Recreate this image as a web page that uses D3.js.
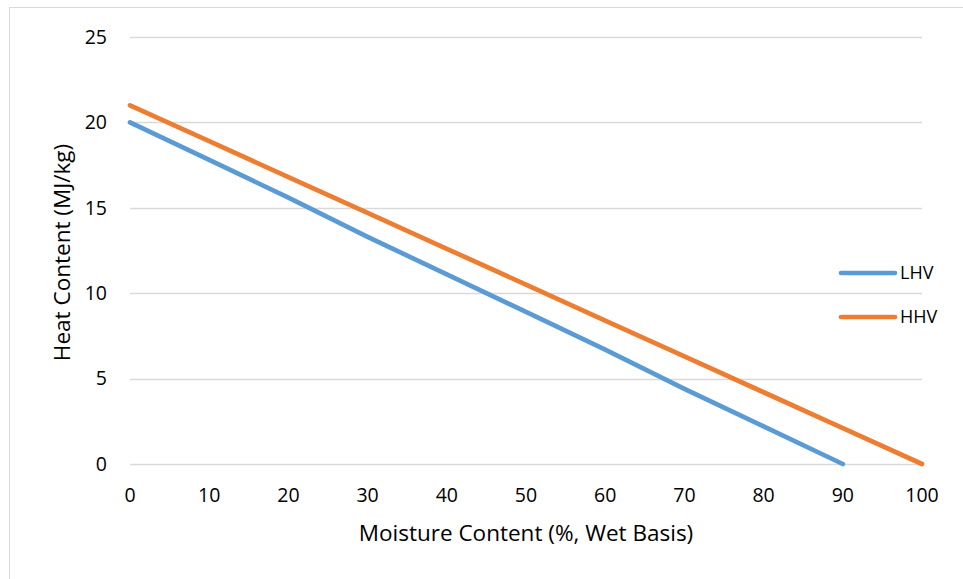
<!DOCTYPE html>
<html>
<head>
<meta charset="utf-8">
<script src="https://cdn.jsdelivr.net/npm/d3@7"></script>
<style>
body { margin: 0; background: #fff; }
text { font-family: "Open Sans", sans-serif; fill: #000; }
</style>
</head>
<body>
<svg id="svg"></svg>
<script>
var width = 963, height = 579;

// data
var moisture = [0, 10, 20, 30, 40, 50, 60, 70, 80, 90, 100];
var lhv = [20, 17.8, 15.6, 13.3, 11.1, 8.9, 6.7, 4.4, 2.2, 0];
var hhv = [21, 18.9, 16.8, 14.7, 12.6, 10.5, 8.4, 6.3, 4.2, 2.1, 0];
var seriesNames = ["LHV", "HHV"];
var xTicks = [0, 10, 20, 30, 40, 50, 60, 70, 80, 90, 100];
var yTicks = [0, 5, 10, 15, 20, 25];

var color = d3.scaleOrdinal()
	.domain(seriesNames)
	.range(["#5B9BD5", "#ED7D31"]);

var svg = d3.select("#svg")
	.attr("width", width)
	.attr("height", height);

// chart border
svg.append("rect")
	.attr("x", 9.5).attr("y", 7.5)
	.attr("width", width + 10).attr("height", height + 10)
	.attr("fill", "none")
	.attr("stroke", "#D9D9D9");

var x = d3.scaleLinear().domain([0, 100]).range([130, 922]);
var y = d3.scaleLinear().domain([0, 25]).range([464, 37]);

// gridlines
svg.append("g")
	.selectAll("line")
	.data(yTicks)
	.enter().append("line")
	.attr("x1", x(0)).attr("x2", x(100))
	.attr("y1", function(d) { return Math.round(y(d)) + 0.5; })
	.attr("y2", function(d) { return Math.round(y(d)) + 0.5; })
	.attr("stroke", "#D9D9D9")
	.attr("stroke-width", 1.5);

// y tick labels
svg.append("g")
	.selectAll("text")
	.data(yTicks)
	.enter().append("text")
	.attr("x", 107)
	.attr("y", function(d) { return y(d); })
	.attr("dy", "0.35em")
	.attr("text-anchor", "end")
	.attr("font-size", "19.5px")
	.text(function(d) { return d; });

// x tick labels
svg.append("g")
	.selectAll("text")
	.data(xTicks)
	.enter().append("text")
	.attr("x", function(d) { return x(d); })
	.attr("y", 495)
	.attr("dy", "0.35em")
	.attr("text-anchor", "middle")
	.attr("font-size", "19.5px")
	.text(function(d) { return d; });

// axis titles
svg.append("text")
	.attr("x", x(50))
	.attr("y", 533)
	.attr("dy", "0.35em")
	.attr("text-anchor", "middle")
	.attr("font-size", "22.5px")
	.text("Moisture Content (%, Wet Basis)");

svg.append("text")
	.attr("transform", "translate(62," + (y(12.5) + 2) + ") rotate(-90)")
	.attr("dy", "0.35em")
	.attr("text-anchor", "middle")
	.attr("font-size", "22.5px")
	.text("Heat Content (MJ/kg)");

// lines
var line = d3.line()
	.x(function(d) { return x(d[0]); })
	.y(function(d) { return y(d[1]); });

var series = [
	{ name: "LHV", values: lhv.map(function(v, i) { return [moisture[i], v]; }) },
	{ name: "HHV", values: hhv.map(function(v, i) { return [moisture[i], v]; }) }
];

svg.append("g")
	.selectAll("path")
	.data(series)
	.enter().append("path")
	.attr("d", function(d) { return line(d.values); })
	.attr("fill", "none")
	.attr("stroke", function(d) { return color(d.name); })
	.attr("stroke-width", 4.7)
	.attr("stroke-linecap", "round")
	.attr("stroke-linejoin", "round");

// legend
var legend = svg.append("g")
	.selectAll("g")
	.data(seriesNames)
	.enter().append("g")
	.attr("transform", function(d, i) { return "translate(0," + (273 + i * 44) + ")"; });

legend.append("line")
	.attr("x1", 841).attr("x2", 895)
	.attr("stroke", function(d) { return color(d); })
	.attr("stroke-width", 4.7)
	.attr("stroke-linecap", "round");

legend.append("text")
	.attr("x", 900)
	.attr("dy", "0.35em")
	.attr("font-size", "18px")
	.text(function(d) { return d; });
</script>
</body>
</html>
